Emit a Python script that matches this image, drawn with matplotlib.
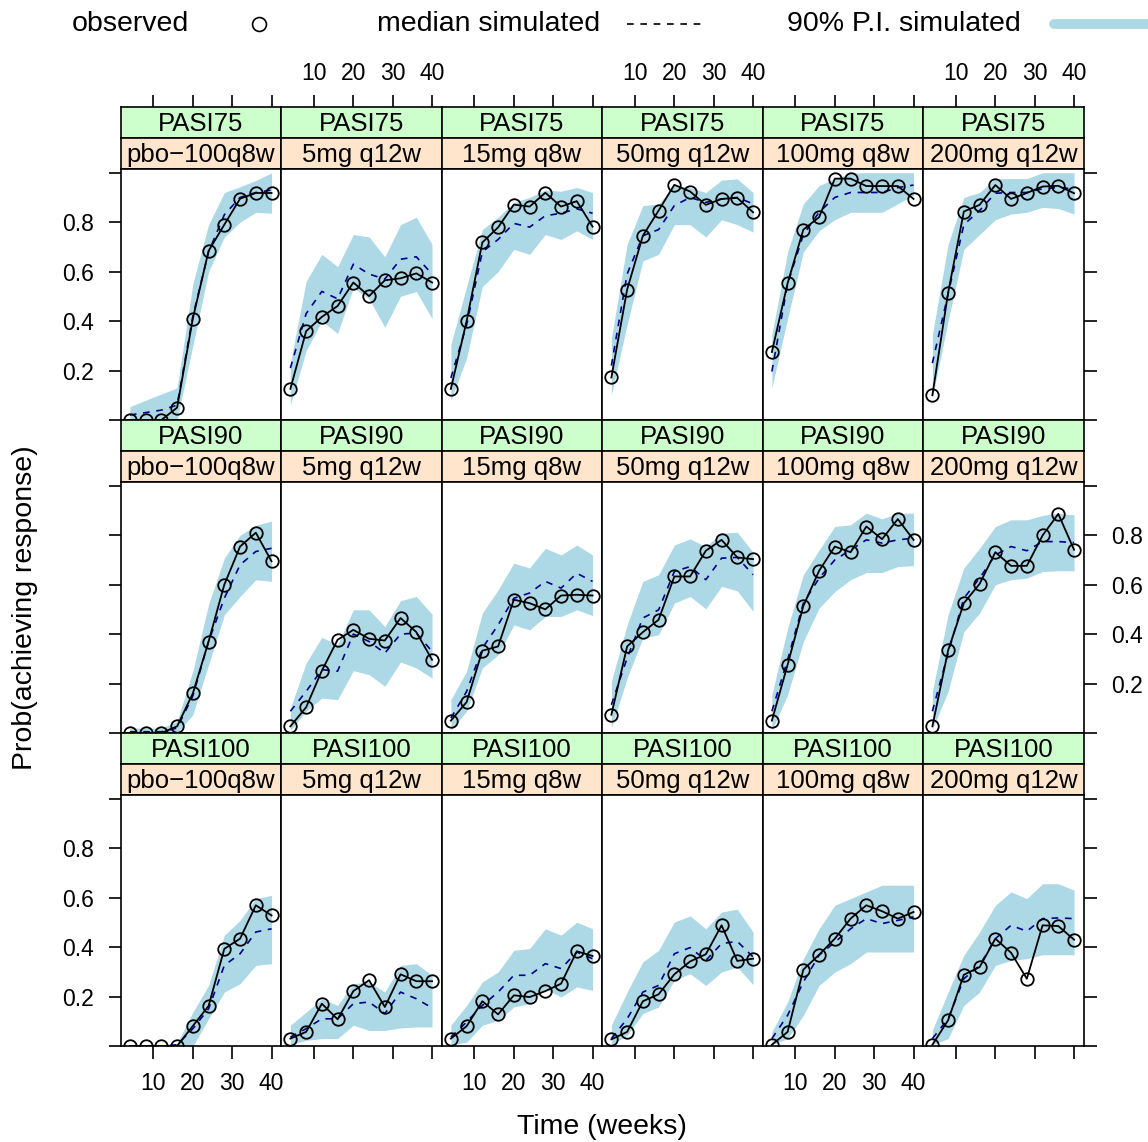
import matplotlib
matplotlib.use("Agg")
import matplotlib.pyplot as plt
from matplotlib.lines import Line2D

plt.rcParams['font.family'] = ['Liberation Sans', 'DejaVu Sans']

# --- data ---
weeks = [4, 8, 12, 16, 20, 24, 28, 32, 36, 40]
endpoints = ["PASI75", "PASI90", "PASI100"]
doses = ["pbo\u2212100q8w", "5mg q12w", "15mg q8w", "50mg q12w", "100mg q8w", "200mg q12w"]

obs_75 = [
    [0, 0, 0, 0.05, 0.41, 0.684, 0.79, 0.895, 0.918, 0.918],
    [0.126, 0.359, 0.417, 0.461, 0.556, 0.501, 0.565, 0.573, 0.593, 0.556],
    [0.126, 0.40, 0.718, 0.779, 0.871, 0.863, 0.919, 0.863, 0.885, 0.782],
    [0.172, 0.527, 0.745, 0.847, 0.951, 0.924, 0.87, 0.894, 0.898, 0.84],
    [0.275, 0.553, 0.77, 0.82, 0.976, 0.976, 0.946, 0.946, 0.946, 0.894],
    [0.10, 0.515, 0.843, 0.87, 0.95, 0.894, 0.918, 0.944, 0.947, 0.917],
]
med_75 = [
    [0.02, 0.03, 0.04, 0.06, 0.42, 0.68, 0.83, 0.90, 0.92, 0.93],
    [0.21, 0.43, 0.52, 0.49, 0.63, 0.59, 0.57, 0.65, 0.66, 0.59],
    [0.17, 0.385, 0.68, 0.73, 0.795, 0.78, 0.826, 0.836, 0.854, 0.836],
    [0.22, 0.59, 0.745, 0.77, 0.867, 0.90, 0.88, 0.894, 0.90, 0.874],
    [0.196, 0.55, 0.75, 0.84, 0.90, 0.92, 0.92, 0.92, 0.94, 0.95],
    [0.23, 0.51, 0.79, 0.847, 0.917, 0.92, 0.92, 0.935, 0.94, 0.935],
]
lo_75 = [
    [0, 0, 0, 0, 0.30, 0.60, 0.74, 0.80, 0.84, 0.836],
    [0.06, 0.28, 0.40, 0.35, 0.535, 0.49, 0.375, 0.50, 0.52, 0.41],
    [0.08, 0.25, 0.54, 0.60, 0.69, 0.67, 0.75, 0.73, 0.765, 0.73],
    [0.10, 0.386, 0.643, 0.67, 0.79, 0.79, 0.74, 0.81, 0.79, 0.76],
    [0.13, 0.41, 0.68, 0.765, 0.81, 0.84, 0.84, 0.84, 0.874, 0.91],
    [0.09, 0.40, 0.69, 0.75, 0.81, 0.833, 0.84, 0.86, 0.855, 0.833],
]
hi_75 = [
    [0.054, 0.08, 0.105, 0.13, 0.55, 0.79, 0.92, 0.943, 0.969, 0.999],
    [0.23, 0.56, 0.67, 0.62, 0.75, 0.74, 0.66, 0.79, 0.82, 0.71],
    [0.305, 0.54, 0.77, 0.82, 0.88, 0.90, 0.93, 0.925, 0.94, 0.92],
    [0.33, 0.71, 0.867, 0.874, 0.948, 0.94, 0.92, 0.97, 0.975, 0.92],
    [0.345, 0.68, 0.874, 0.948, 0.976, 0.999, 1.0, 1.0, 1.0, 1.0],
    [0.345, 0.71, 0.90, 0.92, 0.976, 0.976, 0.976, 1.0, 1.0, 1.0],
]

obs_90 = [
    [0, 0, 0, 0.027, 0.16, 0.37, 0.60, 0.754, 0.81, 0.694],
    [0.027, 0.104, 0.252, 0.377, 0.417, 0.381, 0.374, 0.465, 0.408, 0.296],
    [0.05, 0.125, 0.333, 0.35, 0.539, 0.525, 0.50, 0.556, 0.559, 0.556],
    [0.074, 0.35, 0.408, 0.458, 0.633, 0.633, 0.737, 0.781, 0.71, 0.703],
    [0.05, 0.276, 0.514, 0.656, 0.754, 0.731, 0.835, 0.784, 0.865, 0.781],
    [0.027, 0.334, 0.525, 0.603, 0.731, 0.676, 0.676, 0.799, 0.886, 0.741],
]
med_90 = [
    [0.005, 0.005, 0.005, 0.02, 0.15, 0.37, 0.545, 0.68, 0.734, 0.747],
    [0.088, 0.168, 0.256, 0.25, 0.40, 0.37, 0.323, 0.40, 0.404, 0.33],
    [0.06, 0.168, 0.343, 0.437, 0.545, 0.566, 0.613, 0.586, 0.646, 0.613],
    [0.114, 0.303, 0.465, 0.498, 0.653, 0.673, 0.62, 0.707, 0.71, 0.64],
    [0.088, 0.296, 0.525, 0.626, 0.70, 0.74, 0.781, 0.768, 0.781, 0.788],
    [0.088, 0.323, 0.545, 0.626, 0.72, 0.754, 0.737, 0.774, 0.774, 0.77],
]
lo_90 = [
    [0, 0, 0, 0, 0.074, 0.276, 0.478, 0.552, 0.62, 0.613],
    [0.01, 0.088, 0.141, 0.135, 0.252, 0.236, 0.189, 0.287, 0.263, 0.222],
    [0.01, 0.088, 0.263, 0.316, 0.437, 0.417, 0.471, 0.471, 0.498, 0.475],
    [0.02, 0.222, 0.384, 0.397, 0.525, 0.552, 0.502, 0.593, 0.575, 0.492],
    [0.01, 0.155, 0.37, 0.505, 0.572, 0.62, 0.649, 0.649, 0.673, 0.677],
    [0.015, 0.168, 0.41, 0.485, 0.60, 0.62, 0.626, 0.653, 0.656, 0.656],
]
hi_90 = [
    [0.02, 0.02, 0.02, 0.047, 0.25, 0.52, 0.707, 0.80, 0.84, 0.857],
    [0.10, 0.283, 0.387, 0.357, 0.498, 0.498, 0.43, 0.535, 0.552, 0.48],
    [0.135, 0.25, 0.485, 0.579, 0.687, 0.667, 0.747, 0.72, 0.76, 0.72],
    [0.209, 0.437, 0.613, 0.64, 0.76, 0.785, 0.754, 0.808, 0.812, 0.731],
    [0.155, 0.424, 0.64, 0.74, 0.835, 0.842, 0.889, 0.866, 0.889, 0.889],
    [0.168, 0.478, 0.667, 0.747, 0.835, 0.862, 0.862, 0.88, 0.889, 0.882],
]

obs_100 = [
    [0, 0, 0, 0, 0.081, 0.162, 0.393, 0.434, 0.569, 0.528],
    [0.03, 0.057, 0.171, 0.108, 0.222, 0.266, 0.158, 0.29, 0.262, 0.262],
    [0.03, 0.08, 0.181, 0.128, 0.205, 0.198, 0.222, 0.252, 0.383, 0.364],
    [0.027, 0.057, 0.181, 0.209, 0.29, 0.342, 0.371, 0.488, 0.344, 0.353],
    [0.005, 0.057, 0.309, 0.369, 0.434, 0.515, 0.569, 0.545, 0.515, 0.542],
    [0.005, 0.104, 0.288, 0.319, 0.434, 0.377, 0.272, 0.488, 0.485, 0.43],
]
med_100 = [
    [0, 0, 0, 0.005, 0.07, 0.15, 0.326, 0.373, 0.461, 0.474],
    [0.036, 0.07, 0.11, 0.11, 0.171, 0.178, 0.131, 0.218, 0.191, 0.154],
    [0.036, 0.097, 0.164, 0.218, 0.286, 0.286, 0.333, 0.313, 0.38, 0.353],
    [0.03, 0.11, 0.218, 0.245, 0.373, 0.398, 0.346, 0.414, 0.423, 0.36],
    [0.03, 0.124, 0.259, 0.367, 0.42, 0.474, 0.515, 0.495, 0.508, 0.522],
    [0.03, 0.11, 0.272, 0.326, 0.434, 0.488, 0.464, 0.515, 0.518, 0.515],
]
lo_100 = [
    [0, 0, 0, 0, 0, 0.11, 0.218, 0.252, 0.326, 0.333],
    [0.005, 0.023, 0.03, 0.03, 0.084, 0.063, 0.063, 0.073, 0.077, 0.077],
    [0.005, 0.015, 0.084, 0.104, 0.158, 0.171, 0.232, 0.198, 0.239, 0.225],
    [0.005, 0.043, 0.131, 0.158, 0.266, 0.292, 0.245, 0.299, 0.319, 0.248],
    [0.005, 0.03, 0.124, 0.245, 0.299, 0.333, 0.38, 0.38, 0.38, 0.38],
    [0.005, 0.03, 0.164, 0.218, 0.326, 0.346, 0.353, 0.369, 0.369, 0.369],
]
hi_100 = [
    [0, 0, 0, 0.01, 0.137, 0.245, 0.448, 0.508, 0.596, 0.609],
    [0.084, 0.137, 0.191, 0.164, 0.252, 0.259, 0.218, 0.326, 0.333, 0.286],
    [0.084, 0.164, 0.259, 0.299, 0.387, 0.394, 0.474, 0.448, 0.501, 0.474],
    [0.084, 0.218, 0.34, 0.387, 0.501, 0.526, 0.474, 0.542, 0.553, 0.461],
    [0.057, 0.178, 0.353, 0.474, 0.569, 0.596, 0.623, 0.65, 0.65, 0.65],
    [0.064, 0.218, 0.367, 0.461, 0.569, 0.623, 0.596, 0.656, 0.656, 0.63],
]

rows = [(obs_75, med_75, lo_75, hi_75),
        (obs_90, med_90, lo_90, hi_90),
        (obs_100, med_100, lo_100, hi_100)]

# --- layout (pixels) ---
W, H = 1148, 1142
fig = plt.figure(figsize=(W / 100, H / 100), dpi=100)

col_w = 160.5
col_left = [120.7 + i * col_w for i in range(6)]
row_top = [107, 420, 733]
strip_h = 31
panel_h = 251
xlim = (1.67, 42.45)
ylim = (0, 1.015)
green = "#CCFFCC"
orange = "#FFE5CC"
band = "#ADD8E6"
tick_fs = 16.5
tlen = 9
lw = 1.2


def box(x0, y0, x1, y1):
    return [x0 / W, 1 - y1 / H, (x1 - x0) / W, (y1 - y0) / H]


def strip(x0, y0, color, label):
    ax = fig.add_axes(box(x0, y0, x0 + col_w, y0 + strip_h))
    ax.set_facecolor(color)
    ax.set_xlim(*xlim)
    ax.set_xticks([])
    ax.set_yticks([])
    for s in ax.spines.values():
        s.set_linewidth(lw)
    ax.text(0.5, 0.235, label, transform=ax.transAxes, ha="center",
            va="baseline", fontsize=18.5)
    return ax


for r, (obs, med, lo, hi) in enumerate(rows):
    for c in range(6):
        x0 = col_left[c]
        y0 = row_top[r]
        top_strip = strip(x0, y0, green, endpoints[r])
        strip(x0, y0 + strip_h, orange, doses[c])

        if r == 0:
            top_strip.set_xticks([10, 20, 30, 40])
            top_strip.tick_params(axis="x", top=True, bottom=False,
                                  labeltop=(c % 2 == 1), labelbottom=False,
                                  direction="out", length=tlen, width=lw,
                                  labelsize=tick_fs, pad=6.5)

        ax = fig.add_axes(box(x0, y0 + 2 * strip_h, x0 + col_w,
                              y0 + 2 * strip_h + panel_h))
        ax.fill_between(weeks, lo[c], hi[c], color=band, lw=0)
        ax.plot(weeks, med[c], color="#00008B", lw=1.2, ls=(0, (4, 4)))
        ax.plot(weeks, obs[c], color="black", lw=1.3, marker="o", ms=9,
                mfc="none", mec="black", mew=1.3)
        ax.set_xlim(*xlim)
        ax.set_ylim(*ylim)
        for s in ax.spines.values():
            s.set_linewidth(lw)

        ax.set_xticks([10, 20, 30, 40])
        ax.set_yticks([0, 0.2, 0.4, 0.6, 0.8, 1.0])
        ax.set_yticklabels(["", "0.2", "0.4", "0.6", "0.8", ""])
        show_bottom = (r == 2)
        ax.tick_params(axis="x", top=False, bottom=show_bottom,
                       labelbottom=(show_bottom and c % 2 == 0),
                       direction="out", length=tlen, width=lw,
                       labelsize=tick_fs, pad=9.5)
        ax.tick_params(axis="y", left=(c == 0), right=(c == 5),
                       labelleft=(c == 0 and r != 1),
                       labelright=(c == 5 and r == 1),
                       direction="out", length=tlen, width=lw,
                       labelsize=tick_fs, pad=10.5)

# --- legend across the top ---
ly = 1 - 24 / H
fig.text(72 / W, ly, "observed", fontsize=20.5, va="center", ha="left")
fig.add_artist(Line2D([259 / W], [ly], marker="o", ms=10, mfc="none",
                      mec="black", mew=1.2, transform=fig.transFigure))
fig.text(377 / W, ly, "median simulated", fontsize=20.5, va="center", ha="left")
fig.add_artist(Line2D([627 / W, 707 / W], [ly, ly], color="black", lw=1.2,
                      ls=(0, (4, 4)), transform=fig.transFigure))
fig.text(787 / W, ly, "90% P.I. simulated", fontsize=20.5, va="center", ha="left")
fig.add_artist(Line2D([1054 / W, 1160 / W], [ly, ly], color=band, lw=7,
                      solid_capstyle="round", transform=fig.transFigure))

fig.text(25 / W, 1 - 608 / H, "Prob(achieving response)", rotation=90,
         fontsize=20.5, ha="center", va="center")
fig.text(602 / W, 1 - 1127 / H, "Time (weeks)", fontsize=20.5,
         ha="center", va="center")

fig.savefig("out.png", dpi=100)
